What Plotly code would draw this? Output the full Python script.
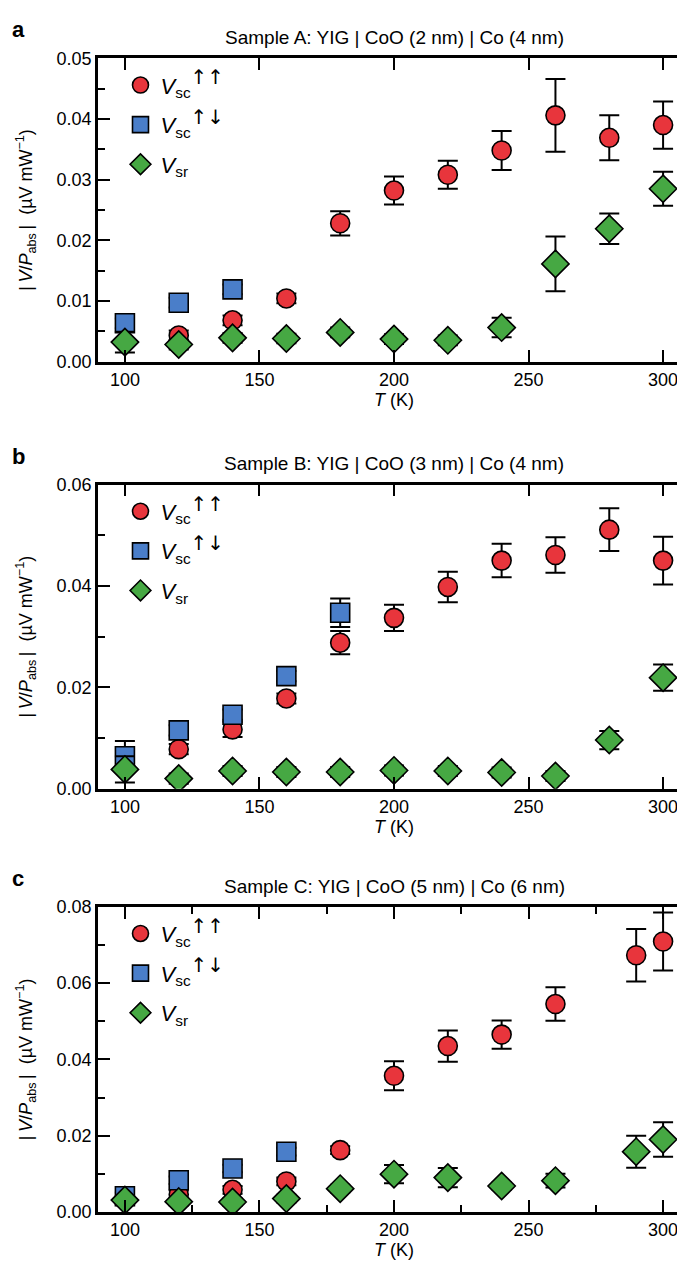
import plotly.graph_objects as go
from plotly.subplots import make_subplots

# ---------------- data ----------------
# Panel a: Sample A
Ta_up = [120, 140, 160, 180, 200, 220, 240, 260, 280, 300]
Va_up = [0.0043, 0.0068, 0.0104, 0.0228, 0.0282, 0.0308, 0.0348, 0.0406, 0.0369, 0.0390]
Ea_up = [0.0008, 0.0008, 0.0008, 0.0020, 0.0023, 0.0023, 0.0032, 0.0060, 0.0037, 0.0039]
Ta_ud = [100, 120, 140]
Va_ud = [0.0063, 0.0097, 0.0119]
Ea_ud = [0.0008, 0.0008, 0.0008]
Ta_sr = [100, 120, 140, 160, 180, 200, 220, 240, 260, 280, 300]
Va_sr = [0.0032, 0.0028, 0.0039, 0.0038, 0.0048, 0.0037, 0.0035, 0.0056, 0.0161, 0.0219, 0.0285]
Ea_sr = [0.0017, 0.0008, 0.0008, 0.0008, 0.0008, 0.0008, 0.0008, 0.0016, 0.0045, 0.0025, 0.0028]

# Panel b: Sample B
Tb_up = [120, 140, 160, 180, 200, 220, 240, 260, 280, 300]
Vb_up = [0.0078, 0.0117, 0.0178, 0.0288, 0.0337, 0.0398, 0.0450, 0.0461, 0.0511, 0.0450]
Eb_up = [0.0010, 0.0015, 0.0010, 0.0023, 0.0026, 0.0030, 0.0033, 0.0035, 0.0042, 0.0047]
Tb_ud = [100, 120, 140, 160, 180]
Vb_ud = [0.0064, 0.0115, 0.0146, 0.0222, 0.0347]
Eb_ud = [0.0030, 0.0010, 0.0010, 0.0010, 0.0028]
Tb_sr = [100, 120, 140, 160, 180, 200, 220, 240, 260, 280, 300]
Vb_sr = [0.0038, 0.0020, 0.0035, 0.0033, 0.0033, 0.0036, 0.0035, 0.0032, 0.0025, 0.0096, 0.0219]
Eb_sr = [0.0026, 0.0010, 0.0010, 0.0010, 0.0010, 0.0010, 0.0010, 0.0010, 0.0010, 0.0018, 0.0026]

# Panel c: Sample C
Tc_up = [120, 140, 160, 180, 200, 220, 240, 260, 290, 300]
Vc_up = [0.0046, 0.0058, 0.0080, 0.0162, 0.0357, 0.0435, 0.0465, 0.0545, 0.0673, 0.0709]
Ec_up = [0.0010, 0.0010, 0.0010, 0.0010, 0.0038, 0.0041, 0.0037, 0.0044, 0.0069, 0.0076]
Tc_ud = [100, 120, 140, 160]
Vc_ud = [0.0041, 0.0083, 0.0114, 0.0158]
Ec_ud = [0.0010, 0.0010, 0.0010, 0.0010]
Tc_sr = [100, 120, 140, 160, 180, 200, 220, 240, 260, 290, 300]
Vc_sr = [0.0031, 0.0027, 0.0026, 0.0035, 0.0061, 0.0099, 0.0090, 0.0068, 0.0082, 0.0158, 0.0190]
Ec_sr = [0.0010, 0.0010, 0.0010, 0.0010, 0.0010, 0.0024, 0.0025, 0.0010, 0.0018, 0.0042, 0.0045]

titles = ["Sample A: YIG | CoO (2 nm) | Co (4 nm)",
          "Sample B: YIG | CoO (3 nm) | Co (4 nm)",
          "Sample C: YIG | CoO (5 nm) | Co (6 nm)"]
letters = ["a", "b", "c"]
ARW = "<span style='font-family:DejaVu Sans;font-size:20px'>{}</span>"
names = ["<i>V</i><sub>sc</sub><sup>" + ARW.format("\u2191\u2191") + "</sup>",
         "<i>V</i><sub>sc</sub><sup>" + ARW.format("\u2191\u2193") + "</sup>",
         "<i>V</i><sub>sr</sub>"]
yranges = [[0, 0.05], [0, 0.06], [0, 0.08]]
ydticks = [0.01, 0.02, 0.02]
yminor = [0.005, 0.01, 0.01]
xminor = [None, None, 25]

RED, BLUE, GREEN = "#e8353c", "#4a7ec9", "#46a843"
FONT = "Liberation Sans, Arial, sans-serif"

W, H = 685, 1273
L, R = 90, 1
PW = W - L - R
# panel pixel extents (top, bottom)
panels_px = [(41, 349), (474, 783), (903, 1213)]

fig = make_subplots(rows=3, cols=1)

series = [
    [(Ta_up, Va_up, Ea_up), (Ta_ud, Va_ud, Ea_ud), (Ta_sr, Va_sr, Ea_sr)],
    [(Tb_up, Vb_up, Eb_up), (Tb_ud, Vb_ud, Eb_ud), (Tb_sr, Vb_sr, Eb_sr)],
    [(Tc_up, Vc_up, Ec_up), (Tc_ud, Vc_ud, Ec_ud), (Tc_sr, Vc_sr, Ec_sr)],
]
styles = [("circle", RED, 19), ("square", BLUE, 19), ("diamond", GREEN, 21)]
legend_ids = ["legend", "legend2", "legend3"]

for p in range(3):
    for s in range(3):
        T, V, E = series[p][s]
        sym, col, size = styles[s]
        fig.add_trace(go.Scatter(
            x=T, y=V, mode="markers", name=names[s],
            marker=dict(symbol=sym, color=col, size=size,
                        line=dict(color="black", width=1.6)),
            error_y=dict(type="data", array=E, visible=True,
                         color="black", thickness=2, width=10),
            legend=legend_ids[p], legendgroup=f"g{p}{s}", showlegend=True,
        ), row=p + 1, col=1)

tickfont = dict(size=18, family=FONT, color="black")
layout_legends = {}
annotations = []
for p in range(3):
    top, bot = panels_px[p]
    dom = [1 - bot / H, 1 - top / H]
    xa = "xaxis" if p == 0 else f"xaxis{p+1}"
    ya = "yaxis" if p == 0 else f"yaxis{p+1}"
    xdict = dict(
        domain=[0, 1], range=[90, 310], tickvals=[100, 150, 200, 250, 300],
        ticks="inside", ticklen=12, tickwidth=2, tickcolor="black",
        showline=True, linewidth=2.5, linecolor="black", mirror="allticks",
        showgrid=False, zeroline=False, tickfont=tickfont,
        title=dict(text="<i>T</i> (K)", font=dict(size=18, family=FONT, color="black"), standoff=2),
    )
    if xminor[p]:
        xdict["minor"] = dict(ticks="inside", ticklen=7, tickwidth=2, tickcolor="black",
                              dtick=xminor[p], tick0=100)
    fig.layout[xa].update(xdict)
    fig.layout[ya].update(dict(
        domain=dom, range=yranges[p], dtick=ydticks[p], tick0=0, tickformat=".2f",
        ticks="inside", ticklen=12, tickwidth=2, tickcolor="black",
        minor=dict(ticks="inside", ticklen=7, tickwidth=2, tickcolor="black",
                   dtick=yminor[p], tick0=0),
        showline=True, linewidth=2.5, linecolor="black", mirror="allticks",
        showgrid=False, zeroline=False, tickfont=tickfont,
        title=dict(text="|\u2009<i>V</i>/<i>P</i><sub>abs</sub>\u2009|  (\u00b5V mW<sup>\u22121</sup>)",
                   font=dict(size=18, family=FONT, color="black"), standoff=20),
    ))
    layout_legends[legend_ids[p]] = dict(
        x=0.038, y=1 - (top + 6) / H, xanchor="left", yanchor="top",
        bgcolor="rgba(0,0,0,0)", font=dict(size=22, family=FONT, color="black"),
        tracegroupgap=8, itemsizing="trace",
    )
    annotations.append(dict(
        text=titles[p], x=0.5, xref="paper", y=1 - (top - 21) / H, yref="paper",
        xanchor="center", yanchor="middle", showarrow=False,
        font=dict(size=19, family=FONT, color="black")))
    annotations.append(dict(
        text="<b>" + letters[p] + "</b>", x=(2 - L) / PW, xref="paper",
        y=1 - (top - 29) / H, yref="paper", xanchor="left", yanchor="middle",
        showarrow=False, font=dict(size=22, family=FONT, color="black")))

fig.update_layout(
    width=W, height=H,
    margin=dict(l=L, r=R, t=0, b=0),
    plot_bgcolor="white", paper_bgcolor="white",
    font=dict(family=FONT, color="black"),
    annotations=annotations,
    **layout_legends,
)

fig.write_html("out.html")
